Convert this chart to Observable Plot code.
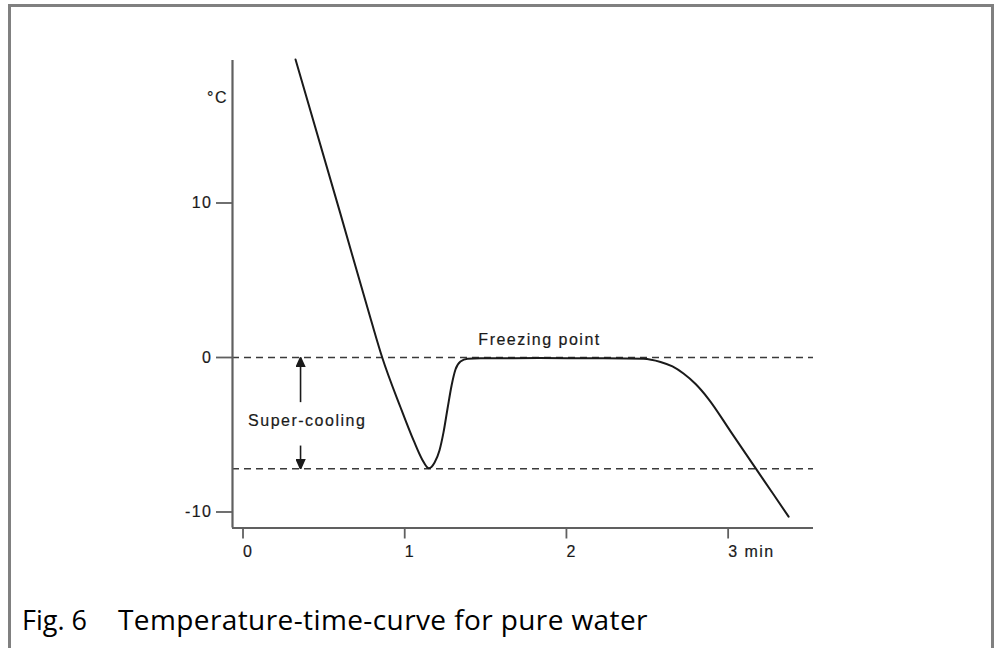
<!DOCTYPE html>
<html><head><meta charset="utf-8">
<script src="https://cdn.jsdelivr.net/npm/d3@7"></script>
<script src="https://cdn.jsdelivr.net/npm/@observablehq/plot@0.6"></script>
<style>
html,body{margin:0;padding:0;background:#fff;}
body{width:997px;height:648px;position:relative;overflow:hidden;}
#chart{position:absolute;left:0;top:0;}
#frame{position:absolute;left:8px;top:4px;width:980px;height:700px;border:3px solid #808080;border-bottom:none;pointer-events:none;}
.cap{position:absolute;top:605px;font-family:"Open Sans";font-size:28px;line-height:28px;color:#000;white-space:pre;}
</style></head><body>
<div id="chart"></div>
<div id="frame"></div>
<div class="cap" style="left:22px;font-size:27px;top:606px">Fig. 6</div>
<div class="cap" style="left:118px;letter-spacing:0.4px">Temperature-time-curve for pure water</div>
<script>
// Temperature-time curve for pure water (time in min, temperature in °C)
const time        = [0.297, 0.573, 0.761, 0.833, 0.946, 1.027, 1.080, 1.121, 1.157, 1.187, 1.212, 1.237, 1.262, 1.286, 1.317, 1.361, 1.441, 1.800, 2.200, 2.449, 2.554, 2.628, 2.696, 2.771, 2.851, 2.987, 3.129, 3.253, 3.346];
const temperature = [19.29, 9.36, 2.52, 0.00, -3.22, -5.37, -6.60, -7.17, -6.80, -6.02, -4.85, -3.30, -1.81, -0.78, -0.26, -0.08, -0.05, -0.04, -0.05, -0.08, -0.29, -0.58, -1.04, -1.72, -2.69, -4.78, -6.97, -8.87, -10.30];

const xTicks = [0, 1, 2, 3];
const xTickLabels = ["0", "1", "2", "3 min"];
const yTicks = [-10, 0, 10];
const yTickLabels = ["-10", "0", "10"];
const referenceLines = [0, -7.2];          // freezing point, super-cooling minimum
const xExtent = [-0.0928, 3.5];
const yExtent = [-11.036, 19.223];

const arrowTime = 0.328;
const arrows = [
  {x1: arrowTime, y1: -2.89, x2: arrowTime, y2: 0},
  {x1: arrowTime, y1: -5.70, x2: arrowTime, y2: -7.2}
];
const labels = [
  {x: 0.369, y: -4.08, text: "Super-cooling"},
  {x: 1.806, y: 1.13, text: "Freezing point"},
  {x: -0.1855, y: 16.83, text: "°C"}
];

const curve = time.map((t, i) => ({time: t, temperature: temperature[i]}));

function headMarker(color, context) {
  const doc = (context && context.document) || document;
  const ns = "http://www.w3.org/2000/svg";
  const m = doc.createElementNS(ns, "marker");
  m.setAttribute("viewBox", "0 -5 10 10");
  m.setAttribute("refX", "10");
  m.setAttribute("refY", "0");
  m.setAttribute("markerUnits", "userSpaceOnUse");
  m.setAttribute("markerWidth", "10");
  m.setAttribute("markerHeight", "10");
  m.setAttribute("orient", "auto");
  const p = doc.createElementNS(ns, "path");
  p.setAttribute("d", "M0,-4.5L10,0L0,4.5Z");
  p.setAttribute("fill", color);
  m.appendChild(p);
  return m;
}

const W = 997, H = 580;
const chart = Plot.plot({
  width: W,
  height: H,
  marginLeft: 232,
  marginRight: 184,
  marginTop: 60,
  marginBottom: 52.5,
  style: {fontFamily: "'Liberation Sans', Arial, sans-serif", fontSize: "16px", letterSpacing: "1.5px", background: "transparent"},
  x: {domain: xExtent},
  y: {domain: yExtent},
  marks: [
    Plot.ruleY(referenceLines, {stroke: "#3a3a3a", strokeWidth: 1.6, strokeDasharray: "7,5"}),
    Plot.ruleX([xExtent[0]], {stroke: "#606060", strokeWidth: 2.2}),
    Plot.ruleY([yExtent[0]], {stroke: "#606060", strokeWidth: 2.2}),
    Plot.axisY({ticks: yTicks, tickFormat: d => yTickLabels[yTicks.indexOf(d)], tickSize: 16, tickPadding: 4,
      stroke: "#606060", strokeWidth: 1.8, color: "#1a1a1a", textStroke: "#1a1a1a", textStrokeWidth: 0.2, label: null}),
    Plot.axisX({ticks: xTicks, tickFormat: d => xTickLabels[xTicks.indexOf(d)], tickSize: 11, tickPadding: 7,
      stroke: "#606060", strokeWidth: 1.8, color: "#1a1a1a", textStroke: "#1a1a1a", textStrokeWidth: 0.2, label: null,
      textAnchor: "start", dx: -4.5}),
    Plot.line(curve, {x: "time", y: "temperature", curve: "monotone-x", stroke: "#1a1a1a", strokeWidth: 2}),
    Plot.link(arrows, {x1: "x1", y1: "y1", x2: "x2", y2: "y2", stroke: "#1a1a1a", strokeWidth: 1.6, markerEnd: headMarker}),
    Plot.text(labels, {x: "x", y: "y", text: "text", fill: "#1a1a1a", stroke: "#1a1a1a", strokeWidth: 0.2, textAnchor: "middle"})
  ]
});
document.getElementById("chart").appendChild(chart);
</script>
</body></html>
